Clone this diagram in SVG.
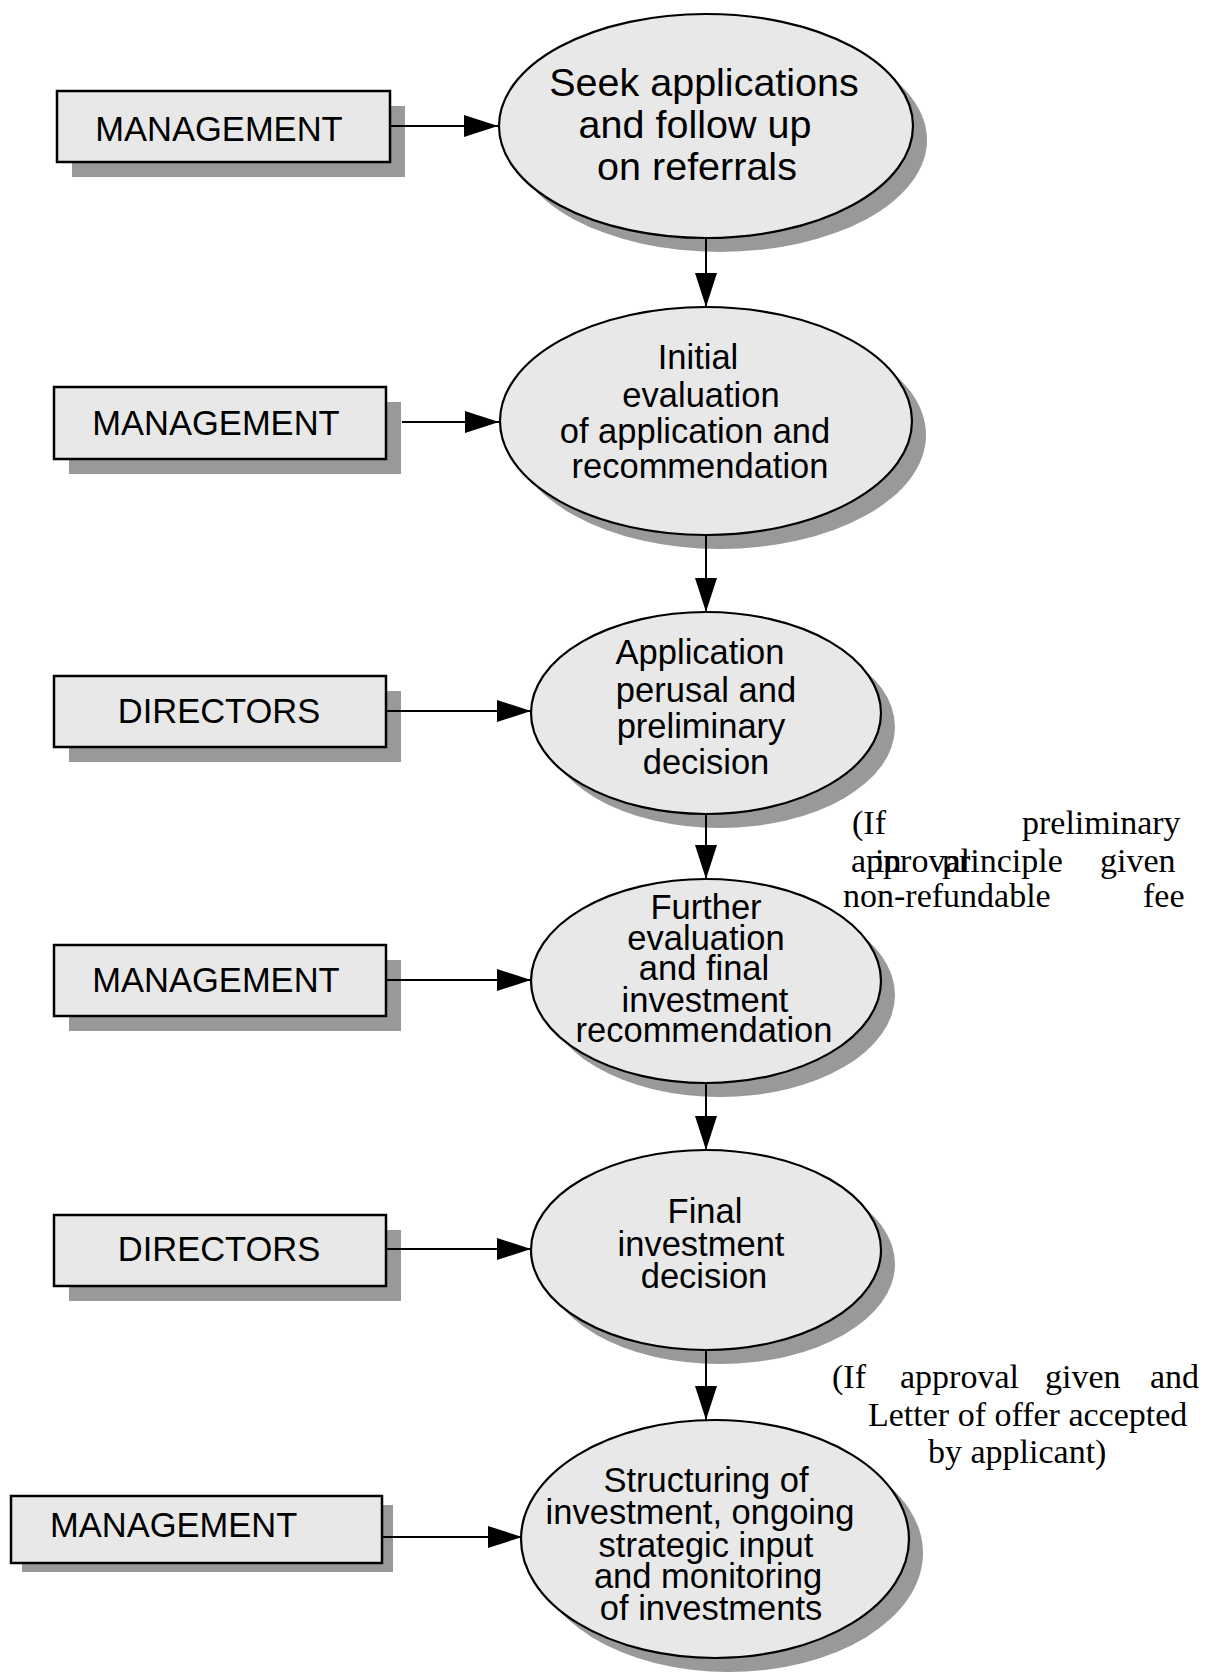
<svg xmlns="http://www.w3.org/2000/svg" width="1217" height="1677" viewBox="0 0 1217 1677">
<style>
.bg{fill:#ffffff}
.shadow{fill:#999999;stroke:none}
.box{fill:#e8e8e8;stroke:#000;stroke-width:2.5}
.ell{fill:#e8e8e8;stroke:#000;stroke-width:2.2}
.lbl{font-family:"Liberation Sans",Arial,sans-serif;font-size:34.5px;fill:#000;text-anchor:middle}
.big{font-size:39.5px}
.note{font-family:"Liberation Serif","Times New Roman",serif;font-size:34px;fill:#000}
.conn{stroke:#000;stroke-width:2;fill:none}
</style>
<defs>
<marker id="ah" markerUnits="userSpaceOnUse" markerWidth="36" markerHeight="24" refX="34" refY="11" orient="auto">
<path d="M0,0 L34,11 L0,22 Z" fill="#000"/>
</marker>
</defs>
<rect class="bg" x="0" y="0" width="1217" height="1677"/>

<g id="box1">
<rect class="shadow" x="72" y="106" width="333" height="71"/>
<rect class="box" x="57" y="91" width="333" height="71"/>
<text class="lbl" x="219" y="141">MANAGEMENT</text>
</g>
<g id="ell1">
<ellipse class="shadow" cx="720" cy="140" rx="207" ry="112"/>
<ellipse class="ell" cx="706" cy="126" rx="207" ry="112"/>
<text class="lbl big" x="704" y="96">Seek applications</text>
<text class="lbl big" x="695" y="138">and follow up</text>
<text class="lbl big" x="697" y="180">on referrals</text>
</g>

<g id="box2">
<rect class="shadow" x="69" y="402" width="332" height="72"/>
<rect class="box" x="54" y="387" width="332" height="72"/>
<text class="lbl" x="216" y="435">MANAGEMENT</text>
</g>
<g id="ell2">
<ellipse class="shadow" cx="720" cy="435" rx="206" ry="114"/>
<ellipse class="ell" cx="706" cy="421" rx="206" ry="114"/>
<text class="lbl" x="698" y="369">Initial</text>
<text class="lbl" x="701" y="407">evaluation</text>
<text class="lbl" x="695" y="443">of application and</text>
<text class="lbl" x="700" y="478">recommendation</text>
</g>

<g id="box3">
<rect class="shadow" x="69" y="691" width="332" height="71"/>
<rect class="box" x="54" y="676" width="332" height="71"/>
<text class="lbl" x="219" y="723">DIRECTORS</text>
</g>
<g id="ell3">
<ellipse class="shadow" cx="720" cy="727" rx="175" ry="101"/>
<ellipse class="ell" cx="706" cy="713" rx="175" ry="101"/>
<text class="lbl" x="700" y="664">Application</text>
<text class="lbl" x="706" y="702">perusal and</text>
<text class="lbl" x="701" y="738">preliminary</text>
<text class="lbl" x="706" y="774">decision</text>
</g>

<g id="box4">
<rect class="shadow" x="69" y="960" width="332" height="71"/>
<rect class="box" x="54" y="945" width="332" height="71"/>
<text class="lbl" x="216" y="992">MANAGEMENT</text>
</g>
<g id="ell4">
<ellipse class="shadow" cx="720" cy="995" rx="175" ry="102"/>
<ellipse class="ell" cx="706" cy="981" rx="175" ry="102"/>
<text class="lbl" x="706" y="919">Further</text>
<text class="lbl" x="706" y="950">evaluation</text>
<text class="lbl" x="704" y="980">and final</text>
<text class="lbl" x="705" y="1012">investment</text>
<text class="lbl" x="704" y="1042">recommendation</text>
</g>

<g id="box5">
<rect class="shadow" x="69" y="1230" width="332" height="71"/>
<rect class="box" x="54" y="1215" width="332" height="71"/>
<text class="lbl" x="219" y="1261">DIRECTORS</text>
</g>
<g id="ell5">
<ellipse class="shadow" cx="720" cy="1264" rx="175" ry="100"/>
<ellipse class="ell" cx="706" cy="1250" rx="175" ry="100"/>
<text class="lbl" x="705" y="1223">Final</text>
<text class="lbl" x="701" y="1256">investment</text>
<text class="lbl" x="704" y="1288">decision</text>
</g>

<g id="box6">
<rect class="shadow" x="22" y="1505" width="371" height="67"/>
<rect class="box" x="11" y="1496" width="371" height="67"/>
<text class="lbl" x="50" y="1537" style="text-anchor:start">MANAGEMENT</text>
</g>
<g id="ell6">
<ellipse class="shadow" cx="729" cy="1553" rx="194" ry="119"/>
<ellipse class="ell" cx="715" cy="1539" rx="194" ry="119"/>
<text class="lbl" x="706" y="1492">Structuring of</text>
<text class="lbl" x="700" y="1524">investment, ongoing</text>
<text class="lbl" x="706" y="1557">strategic input</text>
<text class="lbl" x="708" y="1588">and monitoring</text>
<text class="lbl" x="711" y="1620">of investments</text>
</g>

<g id="connectors">
<line class="conn" x1="390" y1="126" x2="498" y2="126" marker-end="url(#ah)"/>
<line class="conn" x1="402" y1="422" x2="499" y2="422" marker-end="url(#ah)"/>
<line class="conn" x1="386" y1="711" x2="531" y2="711" marker-end="url(#ah)"/>
<line class="conn" x1="386" y1="980" x2="531" y2="980" marker-end="url(#ah)"/>
<line class="conn" x1="386" y1="1249" x2="531" y2="1249" marker-end="url(#ah)"/>
<line class="conn" x1="382" y1="1537" x2="522" y2="1537" marker-end="url(#ah)"/>
<line class="conn" x1="706" y1="238" x2="706" y2="307" marker-end="url(#ah)"/>
<line class="conn" x1="706" y1="535" x2="706" y2="612" marker-end="url(#ah)"/>
<line class="conn" x1="706" y1="814" x2="706" y2="879" marker-end="url(#ah)"/>
<line class="conn" x1="706" y1="1083" x2="706" y2="1150" marker-end="url(#ah)"/>
<line class="conn" x1="706" y1="1351" x2="706" y2="1420" marker-end="url(#ah)"/>
</g>

<g id="note1">
<text class="note" x="852" y="834">(If</text>
<text class="note" x="1022" y="834">preliminary</text>
<text class="note" x="851" y="872">approval</text>
<text class="note" x="875" y="872">in</text>
<text class="note" x="942" y="872">principle</text>
<text class="note" x="1100" y="872">given</text>
<text class="note" x="843" y="907">non-refundable</text>
<text class="note" x="1143" y="907">fee</text>
</g>
<g id="note2">
<text class="note" x="832" y="1388">(If</text>
<text class="note" x="900" y="1388">approval</text>
<text class="note" x="1045" y="1388">given</text>
<text class="note" x="1150" y="1388">and</text>
<text class="note" x="868" y="1426">Letter of offer accepted</text>
<text class="note" x="928" y="1463">by applicant)</text>
</g>
</svg>
